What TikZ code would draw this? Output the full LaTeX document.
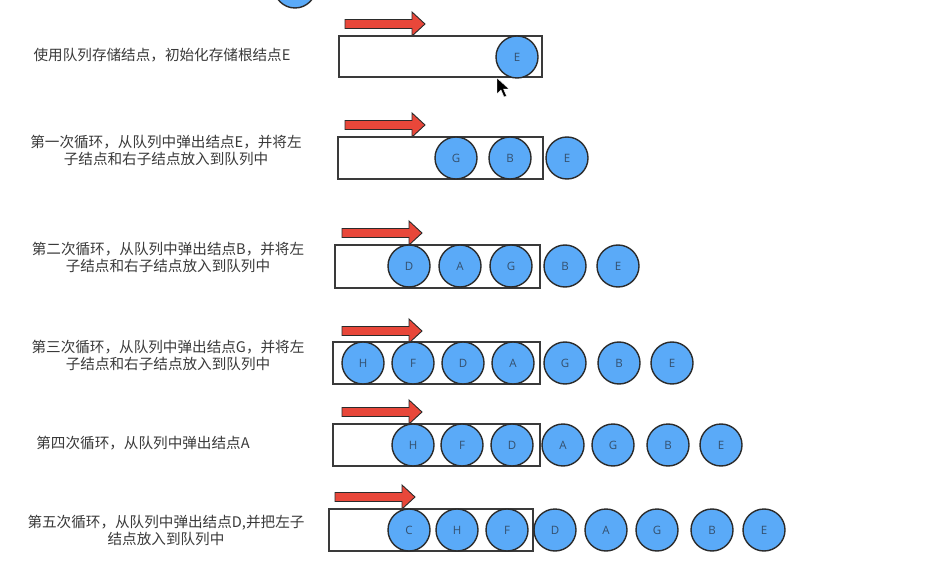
\documentclass[tikz,border=0pt]{standalone}
\usepackage{fontspec}
\setmainfont{Noto Sans CJK SC}
\newfontfamily\letterfont{Open Sans}
\definecolor{ballfill}{HTML}{5AAAF8}
\definecolor{ballline}{HTML}{2B2B2B}
\definecolor{balltext}{HTML}{34506E}
\definecolor{boxline}{HTML}{3A3A3A}
\definecolor{arrowred}{HTML}{E8473A}
\definecolor{labelgray}{HTML}{3A3A3A}
\tikzset{
  ball/.style={circle, minimum size=42pt, inner sep=0pt, draw=ballline, line width=1.4pt, fill=ballfill, text=balltext, font=\letterfont\fontsize{11.5}{13}\selectfont},
  queuebox/.style={draw=boxline, line width=1.6pt, fill=white},
  caption/.style={text=labelgray, align=center, inner sep=0pt, font=\fontsize{14.6}{17}\selectfont},
  redarrow/.pic={\draw[fill=arrowred, draw=ballline, line width=0.9pt, line join=miter] (0,-4.5) -- (67,-4.5) -- (67,-12) -- (80,0) -- (67,12) -- (67,4.5) -- (0,4.5) -- cycle;}
}
\begin{document}
\begin{tikzpicture}[x=1pt,y=-1pt]
\useasboundingbox (0,0) rectangle (948,564);
\fill[white] (0,0) rectangle (948,564);

% partially visible root at top
\begin{scope}
\clip (0,0) rectangle (948,564);
\node[ball] (top) at (295,-13) {};
\end{scope}

% captions
\node[caption] (t1) at (162,55) {使用队列存储结点，初始化存储根结点E};
\node[caption] (t2) at (166,150) {第一次循环，从队列中弹出结点E，并将左\\子结点和右子结点放入到队列中};
\node[caption] (t3) at (168,257) {第二次循环，从队列中弹出结点B，并将左\\子结点和右子结点放入到队列中};
\node[caption] (t4) at (168,355) {第三次循环，从队列中弹出结点G，并将左\\子结点和右子结点放入到队列中};
\node[caption] (t5) at (143,443) {第四次循环，从队列中弹出结点A};
\node[caption] (t6) at (166,530) {第五次循环，从队列中弹出结点D,并把左子\\结点放入到队列中};

% row 1
\pic at (345,24) {redarrow};
\draw[queuebox] (339,36) rectangle (542,77);
\node[ball] (r1e) at (517,57) {E};

% row 2
\pic at (345,125) {redarrow};
\draw[queuebox] (338,137) rectangle (543,179);
\node[ball] (r2g) at (456,158) {G};
\node[ball] (r2b) at (510,158) {B};
\node[ball] (r2e) at (567,158) {E};

% row 3
\pic at (342,233) {redarrow};
\draw[queuebox] (335,245) rectangle (540,288);
\node[ball] (r3d) at (409,266) {D};
\node[ball] (r3a) at (460,266) {A};
\node[ball] (r3g) at (511,266) {G};
\node[ball] (r3b) at (565,266) {B};
\node[ball] (r3e) at (618,266) {E};

% row 4
\pic at (342,331) {redarrow};
\draw[queuebox] (333,342) rectangle (540,384);
\node[ball] (r4h) at (363,363) {H};
\node[ball] (r4f) at (413,363) {F};
\node[ball] (r4d) at (463,363) {D};
\node[ball] (r4a) at (513,363) {A};
\node[ball] (r4g) at (565,363) {G};
\node[ball] (r4b) at (619,363) {B};
\node[ball] (r4e) at (672,363) {E};

% row 5
\pic at (342,412) {redarrow};
\draw[queuebox] (333,424) rectangle (540,466);
\node[ball] (r5h) at (413,445) {H};
\node[ball] (r5f) at (462,445) {F};
\node[ball] (r5d) at (512,445) {D};
\node[ball] (r5a) at (563,445) {A};
\node[ball] (r5g) at (613,445) {G};
\node[ball] (r5b) at (668,445) {B};
\node[ball] (r5e) at (721,445) {E};

% row 6
\pic at (335,497) {redarrow};
\draw[queuebox] (329,509) rectangle (533,551);
\node[ball] (r6c) at (409,530) {C};
\node[ball] (r6h) at (457,530) {H};
\node[ball] (r6f) at (507,530) {F};
\node[ball] (r6d) at (555,530) {D};
\node[ball] (r6a) at (606,530) {A};
\node[ball] (r6g) at (657,530) {G};
\node[ball] (r6b) at (712,530) {B};
\node[ball] (r6e) at (764,530) {E};

% mouse pointer
\fill[black, draw=white, line width=0.4pt] (497,78) -- (497,94) -- (501,90) -- (504,97) -- (506.5,96) -- (503.5,89) -- (509,89) -- cycle;
\end{tikzpicture}
\end{document}
